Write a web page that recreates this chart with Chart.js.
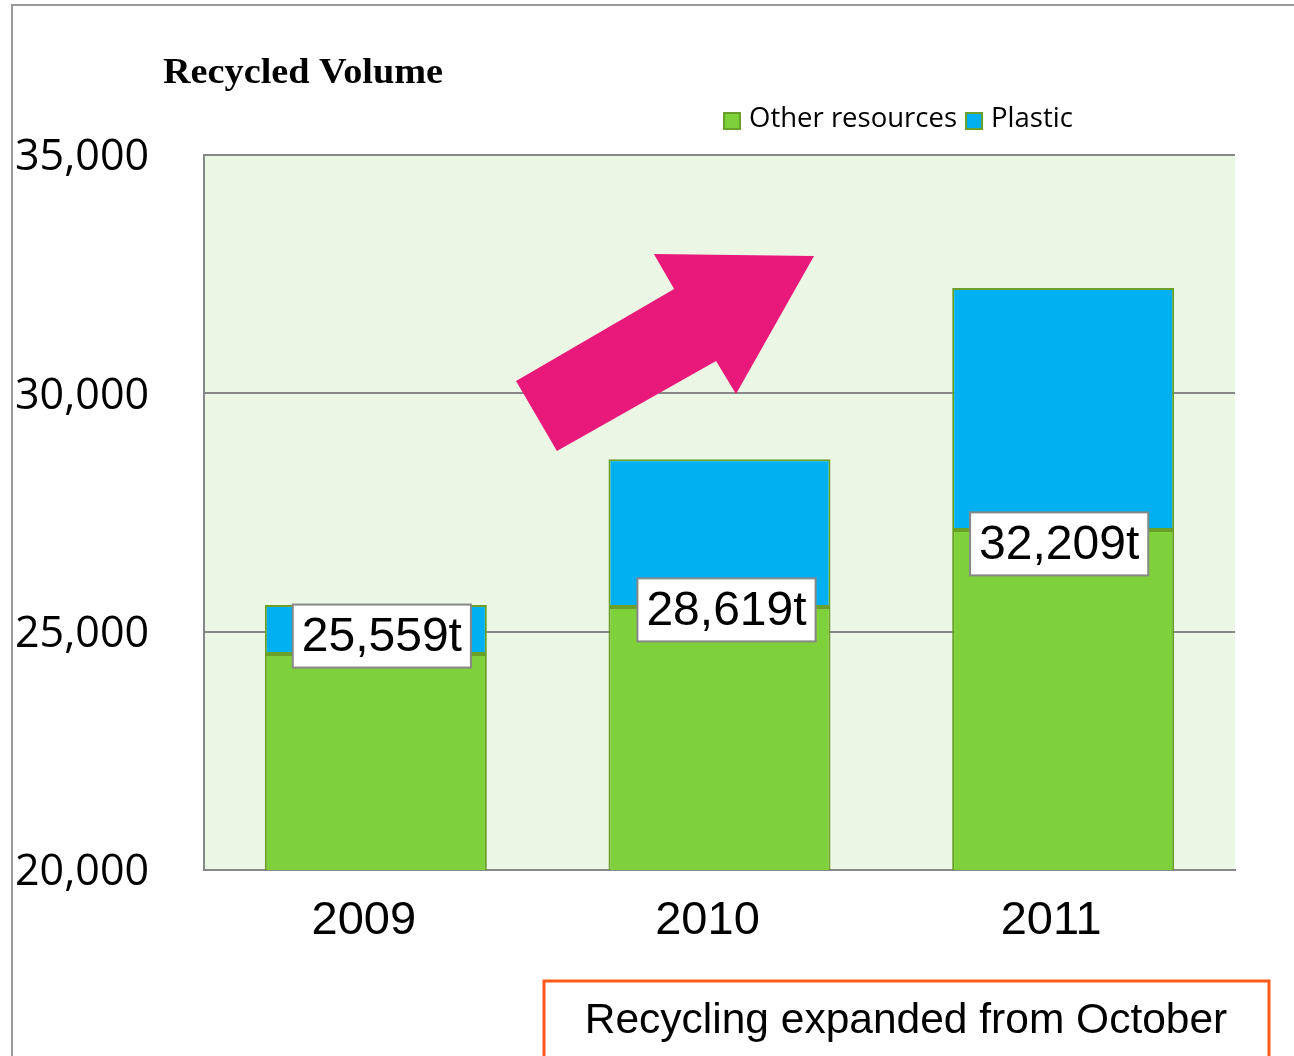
<!DOCTYPE html>
<html>
<head>
<meta charset="utf-8">
<script src="https://cdn.jsdelivr.net/npm/chart.js"></script>
<style>
  body { margin: 0; background: #fff; }
  canvas { display: block; }
</style>
</head>
<body>
<canvas id="myChart" width="1294" height="1056"></canvas>
<script>
// values
const years = ['2009', '2010', '2011'];
const otherResources = [24530, 25520, 27135];
const plastic = [1029, 3099, 5074];
const yTicks = [20000, 25000, 30000, 35000];
const totals = otherResources.map((v, i) => v + plastic[i]);

const green = '#7ED13B';
const blue = '#00B0F0';
const barEdge = '#6A9F2A';

// plot background + outer frame
const backPlugin = {
  id: 'back',
  beforeDraw(chart) {
    const c = chart.ctx;
    const a = chart.chartArea;
    c.save();
    c.fillStyle = '#fff';
    c.fillRect(0, 0, chart.width, chart.height);
    c.fillStyle = '#EBF6E5';
    c.fillRect(a.left, a.top, a.right - a.left, a.bottom - a.top);
    c.strokeStyle = '#999';
    c.lineWidth = 2;
    c.beginPath();
    c.moveTo(12, chart.height);
    c.lineTo(12, 5);
    c.lineTo(chart.width, 5);
    c.stroke();
    c.restore();
  }
};

// the pink arrow, the total boxes, title, legend and note
const extrasPlugin = {
  id: 'extras',
  afterDatasetsDraw(chart) {
    const c = chart.ctx;
    const xs = chart.scales.x, ys = chart.scales.y;

    // arrow in data units (category index, value)
    const arrow = [[0.408, 30259], [0.527, 28790], [0.990, 30678], [1.048, 29986],
                   [1.275, 32881], [0.809, 32923], [0.868, 32189]];
    c.save();
    c.fillStyle = '#E8197A';
    c.beginPath();
    arrow.forEach((p, i) => {
      const px = xs.getPixelForValue(p[0]), py = ys.getPixelForValue(p[1]);
      if (i === 0) c.moveTo(px, py); else c.lineTo(px, py);
    });
    c.closePath();
    c.fill();
    c.restore();

    // total labels near the top of the green part (small nudges as in the original)
    const nudge = [[6, -18], [7, 3], [-4, 14]];
    const meta = chart.getDatasetMeta(0);
    c.save();
    c.font = '48px "Liberation Sans", Arial, sans-serif';
    c.textAlign = 'center';
    c.textBaseline = 'middle';
    totals.forEach((t, i) => {
      const bar = meta.data[i];
      const txt = t.toLocaleString('en-US') + 't';
      const w = c.measureText(txt).width + 18;
      const h = 63;
      const cx = bar.x + nudge[i][0], cy = bar.y + nudge[i][1];
      c.fillStyle = '#fff';
      c.fillRect(cx - w / 2, cy - h / 2, w, h);
      c.strokeStyle = '#888';
      c.lineWidth = 2;
      c.strokeRect(cx - w / 2, cy - h / 2, w, h);
      c.fillStyle = '#000';
      c.fillText(txt, cx, cy + 2);
    });
    c.restore();
  },
  afterDraw(chart) {
    const c = chart.ctx;
    c.save();
    // title, stretched to the width seen in the picture
    c.font = 'bold 35px "Liberation Serif", "Times New Roman", serif';
    c.fillStyle = '#000';
    c.textBaseline = 'alphabetic';
    const tw = c.measureText('Recycled Volume').width;
    c.translate(163, 83);
    c.scale(280 / tw, 1);
    c.fillText('Recycled Volume', 0, 0);
    c.restore();

    // legend
    c.save();
    c.font = '27.5px "Open Sans", sans-serif';
    c.textBaseline = 'middle';
    let x = 724;
    const y = 121;
    chart.data.datasets.forEach(ds => {
      c.fillStyle = ds.backgroundColor;
      c.fillRect(x, y - 8, 16, 16);
      c.strokeStyle = barEdge;
      c.lineWidth = 2;
      c.strokeRect(x, y - 8, 16, 16);
      x += 25;
      c.fillStyle = '#000';
      c.fillText(ds.label, x, y - 2);
      x += c.measureText(ds.label).width + 9;
    });
    c.restore();

    // note box
    c.save();
    c.strokeStyle = '#FF5A1A';
    c.lineWidth = 3;
    c.strokeRect(544, 981, 725, 90);
    c.font = '42.5px "Liberation Sans", Arial, sans-serif';
    c.fillStyle = '#000';
    c.textAlign = 'center';
    c.textBaseline = 'middle';
    c.fillText('Recycling expanded from October', 906, 1021);
    c.restore();
  }
};

const ctx1 = document.getElementById('myChart').getContext('2d');
const myChart = new Chart(ctx1, {
  type: 'bar',
  data: {
    labels: years,
    datasets: [
      {
        label: 'Other resources',
        data: otherResources,
        backgroundColor: green,
        borderColor: barEdge,
        borderWidth: 2,
        borderSkipped: false
      },
      {
        label: 'Plastic',
        data: plastic,
        backgroundColor: blue,
        borderColor: barEdge,
        borderWidth: 2,
        borderSkipped: false
      }
    ]
  },
  options: {
    responsive: false,
    animation: false,
    layout: { padding: { top: 155, left: 15, right: 59, bottom: 0 } },
    datasets: { bar: { categoryPercentage: 1, barPercentage: 0.646 } },
    plugins: {
      legend: { display: false },
      title: { display: false },
      tooltip: { enabled: false }
    },
    scales: {
      x: {
        stacked: true,
        grid: { display: false },
        border: { display: true, color: '#888', width: 2 },
        ticks: {
          color: '#000',
          padding: 15,
          labelOffset: -12,
          font: { family: '"Liberation Sans", Arial, sans-serif', size: 47 }
        },
        afterFit(scale) { scale.height = 186; }
      },
      y: {
        stacked: true,
        min: yTicks[0],
        max: yTicks[yTicks.length - 1],
        afterBuildTicks(scale) { scale.ticks = yTicks.map(v => ({ value: v })); },
        grid: { color: '#888', lineWidth: 2, drawTicks: false },
        border: { display: true, color: '#888', width: 2 },
        ticks: {
          color: '#000',
          crossAlign: 'far',
          labelOffset: 3,
          font: { family: '"Open Sans", sans-serif', size: 43 },
          callback: v => v.toLocaleString('en-US')
        },
        afterFit(scale) { scale.width = 189; }
      }
    }
  },
  plugins: [backPlugin, extrasPlugin]
});
</script>
</body>
</html>
